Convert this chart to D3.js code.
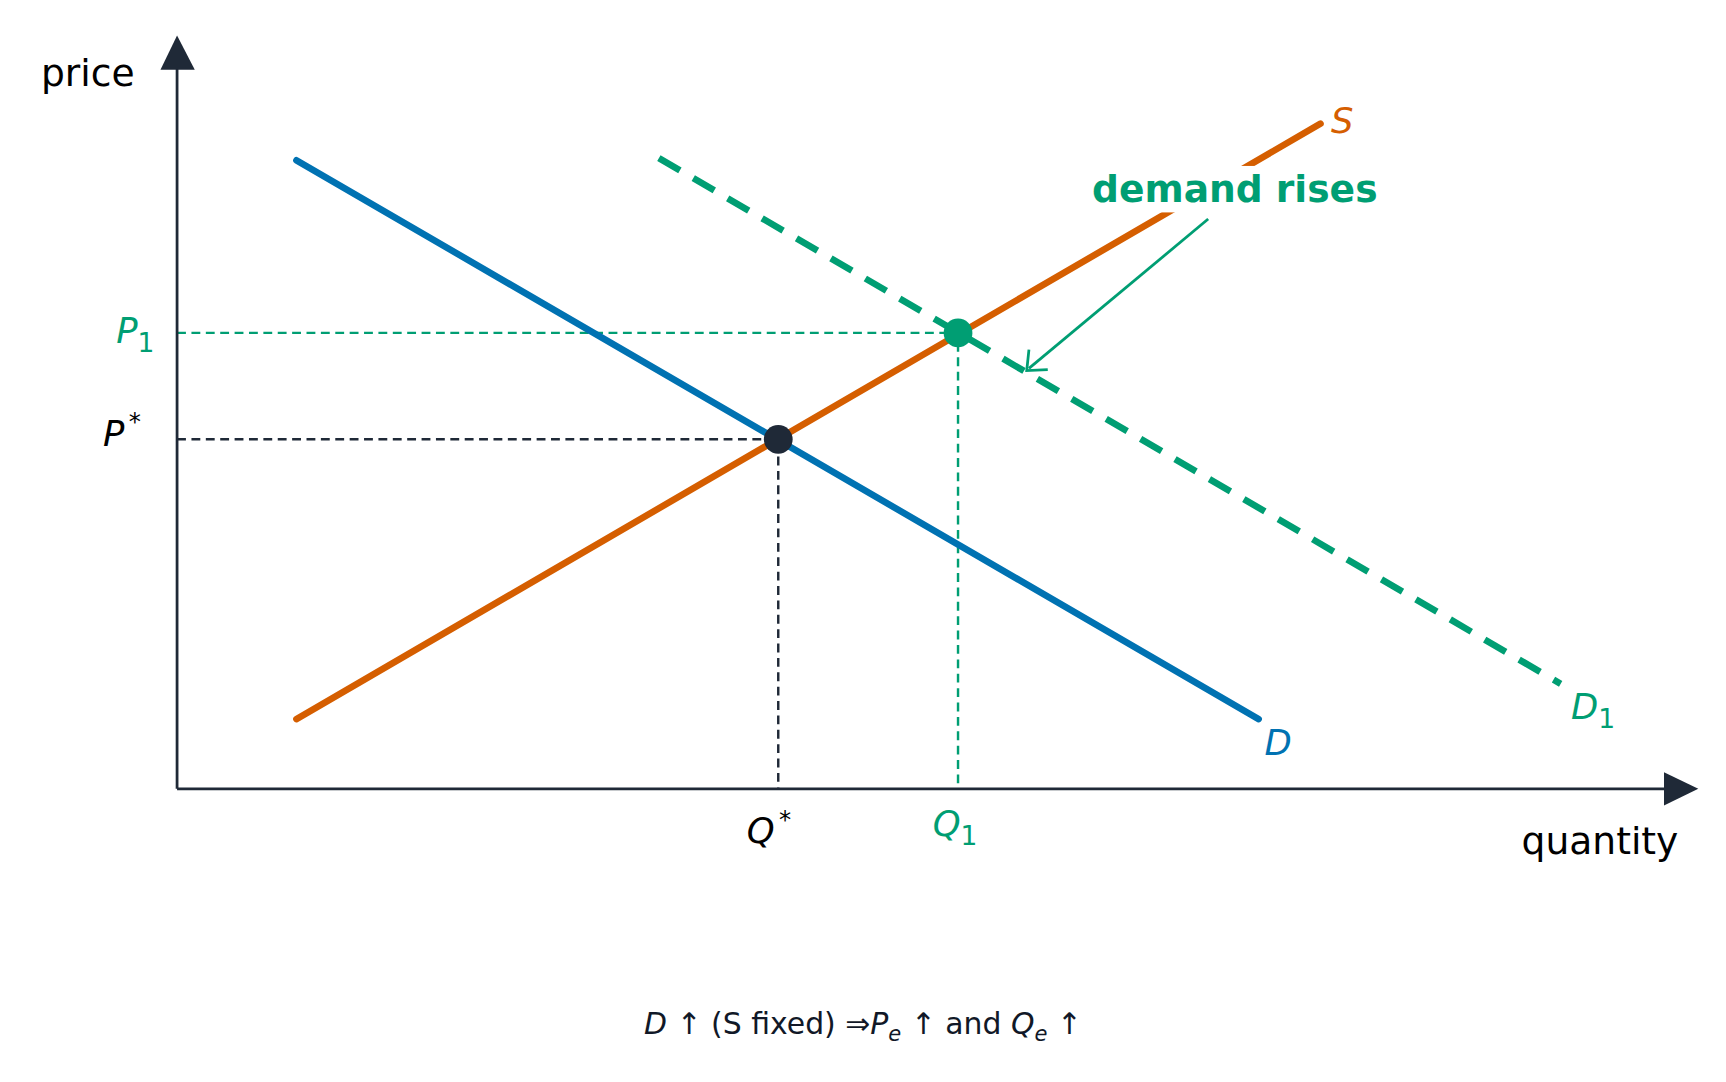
<!DOCTYPE html><html><head><meta charset="utf-8"><script src="https://cdn.jsdelivr.net/npm/d3@7"></script>
<style>body{margin:0;background:#fff}text{font-family:"DejaVu Sans",sans-serif}</style></head><body>
<script>
const supply = [[0.83,0.97],[7.95,9.25]];
const demand = [[0.83,8.74],[7.52,0.97]];
const demand1 = [[3.35,8.77],[9.62,1.46]];
const eq0 = [4.18,4.86];
const eq1 = [5.43,6.34];
const C={o:"#d55e00",b:"#0072b2",g:"#009e73",k:"#1f2937"};
const svg=d3.select("body").append("svg").attr("width",1726).attr("height",1082).attr("viewBox","0 0 1560 978");
const x=d3.scaleLinear().domain([0,10]).range([160,1460]);
const y=d3.scaleLinear().domain([0,10]).range([713,63]);
const line=d3.line().x(d=>x(d[0])).y(d=>y(d[1]));
// guides
function guide(e,c){svg.append("path").attr("d",line([[0,e[1]],e,[e[0],0]])).attr("fill","none").attr("stroke",c).attr("stroke-width",2.2).attr("stroke-dasharray","8,5");}
guide(eq0,C.k);guide(eq1,C.g);
// axes
svg.append("line").attr("x1",x(0)).attr("y1",y(0)).attr("x2",1510).attr("y2",y(0)).attr("stroke",C.k).attr("stroke-width",2.5);
svg.append("line").attr("x1",x(0)).attr("y1",y(0)).attr("x2",x(0)).attr("y2",58).attr("stroke",C.k).attr("stroke-width",2.5);
svg.append("path").attr("d",`M1504,698L1535,713L1504,728Z`).attr("fill",C.k);
svg.append("path").attr("d",`M145,63L160,32L176,63Z`).attr("fill",C.k);
// curves
svg.append("path").attr("d",line(supply)).attr("stroke",C.o).attr("stroke-width",6).attr("stroke-linecap","round").attr("fill","none");
svg.append("path").attr("d",line(demand)).attr("stroke",C.b).attr("stroke-width",6).attr("stroke-linecap","round").attr("fill","none");
svg.append("path").attr("d",line(demand1)).attr("stroke",C.g).attr("stroke-width",6).attr("stroke-dasharray","22,14").attr("fill","none");
svg.append("circle").attr("cx",x(eq0[0])).attr("cy",y(eq0[1])).attr("r",13).attr("fill",C.k);
svg.append("circle").attr("cx",x(eq1[0])).attr("cy",y(eq1[1])).attr("r",13).attr("fill",C.g);
// annotation
svg.append("rect").attr("x",982).attr("y",150).attr("width",283).attr("height",42).attr("fill","#fff");
svg.append("text").attr("x",987).attr("y",183).attr("font-size",34).attr("font-weight","bold").attr("fill",C.g).text("demand rises");
svg.append("line").attr("x1",1092).attr("y1",198).attr("x2",930).attr("y2",333).attr("stroke",C.g).attr("stroke-width",2.5);
svg.append("path").attr("d","M930,316L928,335L947,334").attr("fill","none").attr("stroke",C.g).attr("stroke-width",2.5);
function lab(t,sub,xx,yy,c,anchor,sup){const T=svg.append("text").attr("x",xx).attr("y",yy).attr("font-size",32).attr("fill",c).attr("text-anchor",anchor||"start");
 T.append("tspan").attr("font-style","italic").text(t);
 if(sub)T.append("tspan").attr("font-size",24).attr("dy",8).text(sub);
 if(sup)T.append("tspan").attr("font-size",22).attr("dy",-14).attr("dx",4).text(sup);}
lab("S",null,1203,120,C.o);
lab("D",null,1143,682,C.b);
lab("D","1",1420,650,C.g);
lab("P","1",105,310,C.g);
lab("P",null,93,403,"#000","start","*");
lab("Q",null,675,762,"#000","start","*");
lab("Q","1",843,756,C.g);
svg.append("text").attr("x",37).attr("y",78).attr("font-size",34).text("price");
svg.append("text").attr("x",1517).attr("y",772).attr("font-size",34).attr("text-anchor","end").text("quantity");
const cap=svg.append("text").attr("x",780).attr("y",935).attr("font-size",27).attr("text-anchor","middle").attr("fill","#111827");
cap.append("tspan").attr("font-style","italic").text("D");cap.append("tspan").text(" ↑  (S fixed) ⇒");
cap.append("tspan").attr("font-style","italic").text("P");cap.append("tspan").attr("font-style","italic").attr("font-size",19).attr("dy",6).text("e");
cap.append("tspan").attr("dy",-6).text(" ↑  and ");cap.append("tspan").attr("font-style","italic").text("Q");
cap.append("tspan").attr("font-style","italic").attr("font-size",19).attr("dy",6).text("e");cap.append("tspan").attr("dy",-6).text(" ↑");
</script></body></html>
